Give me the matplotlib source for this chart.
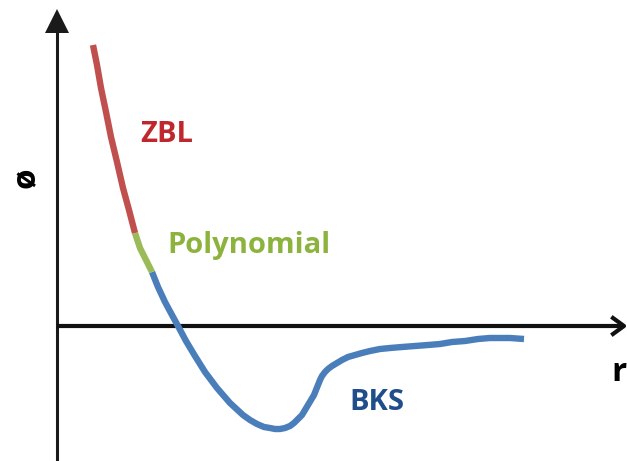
import numpy as np
import matplotlib
matplotlib.use("Agg")
import matplotlib.pyplot as plt

# curve (x right, y down, pixel-like units)
zbl_x = [93, 97, 101, 106, 111, 117, 123, 129, 135]
zbl_y = [45, 65, 88, 112, 137, 162, 188, 210, 233]
poly_x = [135, 140, 146, 152]
poly_y = [233, 248, 260, 272]
bks_x = [152, 158, 165, 172, 178, 186, 195, 205, 217, 230, 243, 250, 257, 264,
         270, 275, 280, 285, 290, 294, 298, 302, 305, 308, 311, 314, 316, 318,
         320, 322, 325, 328, 332, 337, 342, 348, 355, 362, 370, 380, 390, 402,
         415, 428, 440, 452, 465, 478, 490, 500, 510, 524]
bks_y = [272, 287, 302, 315, 326, 341, 356, 372, 388, 403, 415, 420, 424, 427,
         428, 429, 429, 428, 426, 423, 419, 415, 410, 405, 400, 395, 390, 385,
         380, 376, 372, 369, 366, 363, 360, 357, 355, 353, 351, 349, 348, 347,
         346, 345, 344, 342, 341, 339, 338, 338, 338, 339]

red = "#C0504D"
green = "#9BBB59"
blue = "#4A7EBB"

fig = plt.figure(figsize=(6.27, 4.61), dpi=100)
ax = fig.add_axes([0, 0, 1, 1])
ax.set_xlim(0, 627)
ax.set_ylim(461, 0)
ax.axis("off")

# axes
ax.plot([57, 57], [461, 28], color="#1a1a1a", lw=2.2, solid_capstyle="butt")
ax.fill([45, 69, 57], [33, 33, 9], color="#1a1a1a", lw=0)
ax.plot([57, 622], [326, 326], color="#111111", lw=3, solid_capstyle="butt")
ax.plot([613, 624, 613], [318, 326, 334], color="#111111", lw=3)

# curve
lw = 4.6
ax.plot(bks_x, bks_y, color=blue, lw=lw, solid_capstyle="butt", solid_joinstyle="round")
ax.plot(poly_x, poly_y, color=green, lw=lw, solid_capstyle="butt", solid_joinstyle="round")
ax.plot(zbl_x, zbl_y, color=red, lw=lw, solid_capstyle="butt", solid_joinstyle="round")

font = "Open Sans"
ax.text(140, 134, "ZBL", color="#C0272D", fontsize=21, fontweight="bold",
        family=font, va="center", ha="left")
ax.text(167, 245, "Polynomial", color="#8DB33F", fontsize=21, fontweight="bold",
        family=font, va="center", ha="left")
ax.text(349, 402, "BKS", color="#1F4E8A", fontsize=21, fontweight="bold",
        family=font, va="center", ha="left")
ax.text(26, 178, "ø", color="black", fontsize=24, fontweight="bold",
        family=font, va="center", ha="center", rotation=90)
ax.text(611, 372, "r", color="black", fontsize=24, fontweight="bold",
        family=font, va="center", ha="left")

fig.savefig("out.png", dpi=100)
